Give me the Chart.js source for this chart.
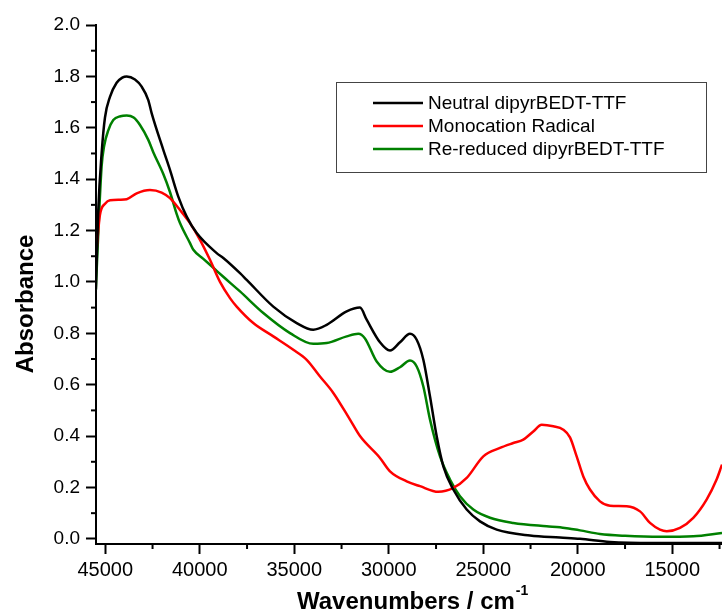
<!DOCTYPE html>
<html>
<head>
<meta charset="utf-8">
<script src="https://cdn.jsdelivr.net/npm/chart.js@4.4.0/dist/chart.umd.min.js"></script>
<style>
  body { margin: 0; background: #fff; }
  #wrap { width: 722px; height: 612px; position: relative; }
</style>
</head>
<body>
<div id="wrap"><canvas id="uvChart"></canvas></div>
<script>
// spectra (wavenumber in cm-1, absorbance)
const neutralX = [45500, 45371, 45195, 45017, 44753, 44400, 44100, 43868, 43430, 43075, 42725, 42545, 41931, 41578, 41138, 40693, 40164, 39106, 38756, 37873, 37519, 36111, 34873, 33995, 33286, 32228, 31524, 31171, 30466, 29937, 29408, 28878, 28524, 28172, 27819, 27466, 27114, 26587, 25878, 25175, 24291, 22529, 20942, 19884, 18296, 16000, 12370];
const neutralY = [0.97, 1.28, 1.50, 1.64, 1.72, 1.775, 1.795, 1.80, 1.788, 1.76, 1.708, 1.656, 1.514, 1.436, 1.332, 1.254, 1.19, 1.112, 1.093, 1.034, 1.008, 0.904, 0.84, 0.814, 0.833, 0.885, 0.90, 0.853, 0.765, 0.733, 0.765, 0.798, 0.775, 0.697, 0.554, 0.399, 0.282, 0.192, 0.114, 0.068, 0.036, 0.013, 0.005, 0.0, -0.012, -0.016, -0.016];

const radicalX = [45500, 45285, 45000, 44750, 44221, 43868, 43340, 42636, 42017, 41578, 41048, 40518, 39989, 39460, 38931, 38402, 38048, 37170, 36111, 35053, 34344, 33640, 32936, 32053, 31524, 30466, 29937, 29055, 28349, 27381, 26587, 25878, 24998, 24116, 23413, 22884, 22355, 21910, 21296, 20767, 20413, 20060, 19709, 19355, 18826, 18296, 17413, 16709, 16180, 15651, 15296, 14593, 13889, 13185, 12656, 12370];
const radicalY = [1.09, 1.26, 1.305, 1.318, 1.32, 1.322, 1.345, 1.358, 1.348, 1.326, 1.28, 1.229, 1.164, 1.086, 1.0, 0.937, 0.904, 0.84, 0.788, 0.736, 0.697, 0.632, 0.568, 0.464, 0.40, 0.315, 0.263, 0.224, 0.205, 0.183, 0.198, 0.237, 0.321, 0.354, 0.373, 0.386, 0.418, 0.444, 0.438, 0.425, 0.395, 0.321, 0.243, 0.192, 0.146, 0.129, 0.127, 0.107, 0.062, 0.036, 0.030, 0.043, 0.082, 0.153, 0.231, 0.289];

const reducedX = [45500, 45318, 45195, 45060, 44842, 44577, 44200, 43868, 43500, 43164, 42725, 42461, 41931, 41578, 41226, 41048, 40518, 40341, 39813, 39283, 38756, 37873, 36640, 35228, 33995, 33286, 32228, 31613, 31260, 30640, 29937, 29408, 28878, 28524, 28172, 27819, 27290, 26762, 26233, 25529, 24646, 23413, 21645, 20942, 20413, 19884, 18826, 17500, 15651, 13889, 12370];
const reducedY = [0.97, 1.28, 1.45, 1.53, 1.59, 1.63, 1.645, 1.648, 1.64, 1.611, 1.553, 1.505, 1.42, 1.35, 1.265, 1.229, 1.151, 1.125, 1.09, 1.055, 1.02, 0.963, 0.879, 0.801, 0.759, 0.762, 0.788, 0.798, 0.78, 0.69, 0.65, 0.668, 0.694, 0.671, 0.593, 0.464, 0.321, 0.231, 0.166, 0.114, 0.082, 0.062, 0.049, 0.045, 0.039, 0.033, 0.019, 0.012, 0.008, 0.010, 0.023];

const seriesNames = ["Neutral dipyrBEDT-TTF", "Monocation Radical", "Re-reduced dipyrBEDT-TTF"];
const seriesColors = ["#000000", "#ff0000", "#008000"];

const xTickValues = [15000, 20000, 25000, 30000, 35000, 40000, 45000];
const xMinorValues = [12500, 17500, 22500, 27500, 32500, 37500, 42500];
const yTickValues = [0.0, 0.2, 0.4, 0.6, 0.8, 1.0, 1.2, 1.4, 1.6, 1.8, 2.0];
const yMinorValues = [0.1, 0.3, 0.5, 0.7, 0.9, 1.1, 1.3, 1.5, 1.7, 1.9];

let uvChart;

function toPoints(xs, ys) {
    return xs.map((x, i) => ({ x: x, y: ys[i] }));
}

// minor ticks, axis titles and the boxed legend inside the plot
const extrasPlugin = {
    id: "extras",
    afterDraw(chart) {
        const ctx = chart.ctx;
        const xs = chart.scales.x;
        const ys = chart.scales.y;
        const area = chart.chartArea;
        ctx.save();
        ctx.strokeStyle = "#000";
        ctx.lineWidth = 2;

        // minor ticks
        xMinorValues.forEach(v => {
            const px = xs.getPixelForValue(v);
            if (px < area.left || px > area.right) return;
            ctx.beginPath();
            ctx.moveTo(px, area.bottom);
            ctx.lineTo(px, area.bottom + 5);
            ctx.stroke();
        });
        yMinorValues.forEach(v => {
            const py = ys.getPixelForValue(v);
            ctx.beginPath();
            ctx.moveTo(area.left, py);
            ctx.lineTo(area.left - 5, py);
            ctx.stroke();
        });

        // axis titles
        ctx.fillStyle = "#000";
        ctx.font = "bold 24px 'Liberation Sans', Arial, sans-serif";
        ctx.textBaseline = "alphabetic";
        ctx.textAlign = "left";
        const xTitle = "Wavenumbers / cm";
        ctx.fillText(xTitle, 297, 609);
        const w = ctx.measureText(xTitle).width;
        ctx.font = "bold 14px 'Liberation Sans', Arial, sans-serif";
        ctx.fillText("-1", 297 + w + 1, 595);

        ctx.save();
        ctx.translate(33, 304);
        ctx.rotate(-Math.PI / 2);
        ctx.font = "bold 24px 'Liberation Sans', Arial, sans-serif";
        ctx.textAlign = "center";
        ctx.fillText("Absorbance", 0, 0);
        ctx.restore();

        // legend box
        ctx.lineWidth = 1;
        ctx.strokeStyle = "#444";
        ctx.strokeRect(336.5, 82.5, 370, 90);
        ctx.font = "19px 'Liberation Sans', Arial, sans-serif";
        ctx.textBaseline = "middle";
        ctx.textAlign = "left";
        const rows = [103, 126, 149];
        chart.data.datasets.forEach((ds, i) => {
            ctx.strokeStyle = ds.borderColor;
            ctx.lineWidth = 2.5;
            ctx.beginPath();
            ctx.moveTo(373, rows[i]);
            ctx.lineTo(423, rows[i]);
            ctx.stroke();
            ctx.fillStyle = "#000";
            ctx.fillText(ds.label, 428, rows[i] + 1);
        });
        ctx.restore();
    }
};

function initChart() {
    const ctx = document.getElementById("uvChart").getContext("2d");
    const series = [
        toPoints(neutralX, neutralY),
        toPoints(radicalX, radicalY),
        toPoints(reducedX, reducedY)
    ];

    uvChart = new Chart(ctx, {
        type: "line",
        data: {
            datasets: series.map((pts, i) => ({
                label: seriesNames[i],
                data: pts,
                borderColor: seriesColors[i],
                backgroundColor: seriesColors[i],
                borderWidth: 2.5,
                pointRadius: 0,
                cubicInterpolationMode: "monotone",
                fill: false
            }))
        },
        options: {
            responsive: true,
            maintainAspectRatio: false,
            animation: false,
            layout: { padding: { top: 25, right: 0, left: 0, bottom: 0 } },
            plugins: {
                legend: { display: false },
                tooltip: { enabled: false }
            },
            scales: {
                x: {
                    type: "linear",
                    reverse: true,
                    min: 12370,
                    max: 45492,
                    afterBuildTicks(scale) { scale.ticks = xTickValues.map(v => ({ value: v })); },
                    afterFit(scale) { scale.height = 68; },
                    border: { display: true, color: "#000", width: 2 },
                    grid: { drawOnChartArea: false, tickLength: 10, tickColor: "#000", tickWidth: 2 },
                    ticks: {
                        maxRotation: 0,
                        autoSkip: false,
                        padding: 4,
                        color: "#000",
                        font: { family: "'Liberation Sans', Arial, sans-serif", size: 20 },
                        callback: v => String(v)
                    }
                },
                y: {
                    min: -0.02,
                    max: 2.0,
                    afterBuildTicks(scale) { scale.ticks = yTickValues.map(v => ({ value: v })); },
                    afterFit(scale) { scale.width = 96; },
                    border: { display: true, color: "#000", width: 2 },
                    grid: { drawOnChartArea: false, tickLength: 10, tickColor: "#000", tickWidth: 2 },
                    ticks: {
                        padding: 6,
                        color: "#000",
                        font: { family: "'Liberation Sans', Arial, sans-serif", size: 19 },
                        callback: v => Number(v).toFixed(1)
                    }
                }
            }
        },
        plugins: [extrasPlugin]
    });
}

document.addEventListener("DOMContentLoaded", initChart);
</script>
</body>
</html>
